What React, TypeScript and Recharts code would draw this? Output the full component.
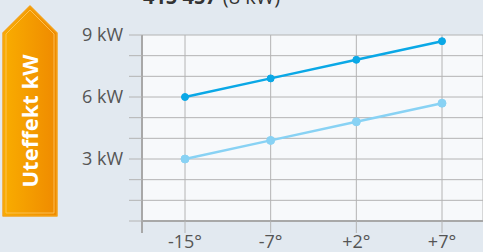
import React from 'react';
import {
  LineChart,
  Line,
  XAxis,
  YAxis,
  CartesianGrid,
} from 'recharts';

// outdoor temperature categories
const temperatures = ['-15°', '-7°', '+2°', '+7°'];
// output power (kW)
const outputHigh = [6.0, 6.9, 7.8, 8.7];
const outputLow = [3.0, 3.9, 4.8, 5.7];
const yTicks = [0, 1, 2, 3, 4, 5, 6, 7, 8, 9];
const labelledTicks = [3, 6, 9];

const chartData = temperatures.map((t, i) => ({
  temp: t,
  high: outputHigh[i],
  low: outputLow[i],
}));

const PAGE_BG = '#e2e9f0';
const PLOT_BG = '#f7f9fb';
const GRID = '#b4b4b4';
const AXIS = '#a8a8a8';
const TEXT = '#555555';
const FONT = '"Open Sans", "Noto Sans", sans-serif';
const PAD_LEFT = 43;
const TICK_SIZE = 12;
const TICK_MARGIN = 2;

// x tick: label + for the first tick, the y-axis line carried below the x axis
function XTick(props: any) {
  const { x, y, payload, index } = props;
  const top = y - TICK_MARGIN - TICK_SIZE;
  return (
    <g>
      {index === 0 && (
        <line x1={x - PAD_LEFT} x2={x - PAD_LEFT} y1={top} y2={top + TICK_SIZE} stroke={AXIS} strokeWidth={2} />
      )}
      <text
        x={x}
        y={y}
        dy="0.71em"
        textAnchor="middle"
        fill={TEXT}
        fontSize={18}
        fontFamily={FONT}
      >
        {payload.value}
      </text>
    </g>
  );
}

function Banner() {
  return (
    <svg
      width={483}
      height={252}
      style={{ position: 'absolute', left: 0, top: 0, pointerEvents: 'none' }}
    >
      <defs>
        <linearGradient id="orange" x1="0" y1="0" x2="1" y2="0">
          <stop offset="0%" stopColor="#f9ad00" />
          <stop offset="100%" stopColor="#ef8a00" />
        </linearGradient>
      </defs>
      <path
        d="M3,33 L30,6 L57,33 L57,216 L3,216 Z"
        fill="url(#orange)"
        stroke="#f3a21a"
        strokeWidth={1.5}
        strokeLinejoin="round"
      />
      <path
        d="M6,34 L30,10 L54,34 L54,213 L6,213 Z"
        fill="none"
        stroke="#fcc867"
        strokeOpacity={0.8}
        strokeWidth={1}
        strokeLinejoin="round"
      />
      <text
        x={0}
        y={0}
        transform="translate(38,121) rotate(-90)"
        textAnchor="middle"
        fill="#ffffff"
        fontFamily={FONT}
        fontWeight={700}
        fontSize={22}
        textLength={133}
        lengthAdjust="spacingAndGlyphs"
      >
        Uteffekt kW
      </text>
      <text x={143} y={4} fontFamily={FONT} fontSize={20} fill="#333">
        <tspan fontWeight={700}>415 457</tspan>
        <tspan dx={6}>(8 kW)</tspan>
      </text>
    </svg>
  );
}

export default function App() {
  return (
    <div
      style={{
        position: 'absolute',
        left: 0,
        top: 0,
        width: 483,
        height: 252,
        background: PAGE_BG,
        overflow: 'hidden',
      }}
    >
      <LineChart
        width={483}
        height={252}
        data={chartData}
        margin={{ top: 35, right: 0, bottom: 0, left: 0 }}
      >
        <CartesianGrid stroke={GRID} strokeWidth={1} fill={PLOT_BG} fillOpacity={1} />
        <XAxis
          dataKey="temp"
          padding={{ left: PAD_LEFT, right: 41 }}
          axisLine={{ stroke: AXIS, strokeWidth: 2 }}
          tickLine={{ stroke: GRID }}
          tickSize={TICK_SIZE}
          tickMargin={TICK_MARGIN}
          height={31}
          tick={<XTick />}
          interval={0}
        />
        <YAxis
          type="number"
          domain={[0, 9]}
          ticks={yTicks}
          width={142}
          tickSize={13}
          tickMargin={6}
          axisLine={{ stroke: AXIS, strokeWidth: 2 }}
          tickLine={{ stroke: GRID }}
          tick={{ fill: TEXT, fontSize: 18, fontFamily: FONT }}
          tickFormatter={(v: number) => (labelledTicks.includes(v) ? `${v} kW` : '')}
        />
        <Line
          dataKey="low"
          stroke="#88d2f4"
          strokeWidth={2.5}
          dot={{ r: 4, fill: '#88d2f4', stroke: '#88d2f4', strokeWidth: 1 }}
          activeDot={false}
          isAnimationActive={false}
        />
        <Line
          dataKey="high"
          stroke="#0aa8e6"
          strokeWidth={2.5}
          dot={{ r: 3.5, fill: '#0aa8e6', stroke: '#0aa8e6', strokeWidth: 1 }}
          activeDot={false}
          isAnimationActive={false}
        />
      </LineChart>
      <Banner />
    </div>
  );
}
